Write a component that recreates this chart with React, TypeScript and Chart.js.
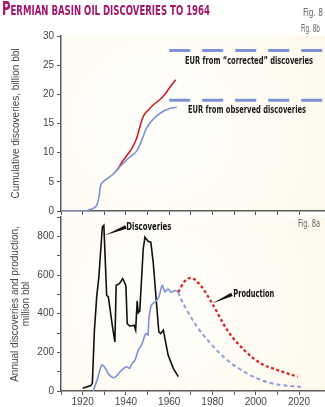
import React, { useEffect, useRef } from 'react';
import { Chart, registerables } from 'chart.js';

Chart.register(...registerables);

// ---------- DATA ----------
const titleFirst = 'P';
const titleRest = 'ERMIAN BASIN OIL DISCOVERIES TO 1964';

const cumObsYears = [1910, 1921, 1923, 1925, 1926.5, 1927.5, 1928.2, 1929.5, 1932, 1934, 1937, 1941, 1945, 1947.5, 1949.5, 1952.5, 1956, 1960.5, 1963.5];
const cumObsValues = [0, 0, 0.2, 0.5, 1.0, 2.3, 4.2, 5.0, 5.7, 6.3, 7.5, 9.0, 10.3, 12.3, 14.2, 15.7, 16.8, 17.6, 17.8];

const cumCorrYears = [1936, 1938, 1940, 1943, 1945, 1946.5, 1948, 1950, 1953, 1956, 1958, 1960.5, 1963];
const cumCorrValues = [7.0, 8.3, 9.3, 10.9, 12.5, 14.5, 16.2, 17.2, 18.3, 19.2, 20.0, 21.3, 22.5];

const eurYears = [1960, 2032];
const eurCorrected = 27.5;
const eurObserved = 19.0;

const discYears = [1920, 1923.8, 1924.5, 1925.4, 1926.5, 1927.5, 1929.1, 1929.8, 1931.1, 1931.9, 1933.7, 1934.9, 1935.5, 1937, 1938.5, 1939.2, 1940, 1940.6, 1941.9, 1943.8, 1944.5, 1945.2, 1945.7, 1946.4, 1948, 1948.8, 1949.3, 1950.3, 1951.5, 1952.6, 1954.2, 1955.2, 1956.1, 1957.3, 1959.5, 1961.9, 1964.2];
const discValues = [14, 28, 41, 306, 487, 590, 848, 857, 495, 487, 340, 254, 547, 555, 581, 565, 543, 349, 335, 340, 315, 465, 405, 413, 736, 796, 788, 774, 770, 667, 444, 306, 297, 315, 186, 117, 74];

const prodYears = [1924.9, 1926.9, 1928.8, 1930, 1931.8, 1934.1, 1935.6, 1938, 1940.3, 1941.8, 1942.9, 1944.2, 1945.7, 1947.2, 1948.8, 1949.5, 1950.2, 1950.6, 1951.8, 1953.9, 1955.2, 1956.8, 1958, 1959.5, 1961, 1962.6, 1964.2];
const prodValues = [0, 65, 134, 126, 91, 69, 77, 108, 125, 117, 143, 160, 212, 237, 289, 297, 289, 370, 444, 465, 487, 547, 513, 527, 510, 520, 512];

const prodCorrYears = [1964.2, 1967, 1970, 1974.4, 1979.9, 1986.8, 1994.6, 2002.3, 2010.1, 2019.4];
const prodCorrValues = [512, 565, 585, 547, 453, 315, 212, 143, 108, 74];

const prodObsFcYears = [1964.2, 1965, 1968.2, 1972.9, 1979.1, 1986.8, 1994.6, 2002.3, 2010, 2020.9];
const prodObsFcValues = [512, 487, 418, 332, 246, 160, 100, 57, 34, 22];

const xTickStep = 10;
const topYTicks = [0, 5, 10, 15, 20, 25, 30];
const bottomYLabelStep = 200;

// ---------- STYLE ----------
const NARROW = '"Liberation Sans Narrow", "DejaVu Sans Condensed", "Arial Narrow", sans-serif';
const SANS = '"Liberation Sans", Arial, sans-serif';
const BLUE = '#7d92d6';
const BLUE_DASH = '#8c9fdc';
const RED = '#c9202a';
const RED_DOT = '#d8262c';
const AXIS = '#5a5a5a';
const TEXT = '#444';

const zip = (xs: number[], ys: number[]) => xs.map((x, i) => ({ x, y: ys[i] }));

function fillCream(chart: any) {
  const { ctx, chartArea: a } = chart;
  ctx.save();
  const cx = (a.left + a.right) / 2;
  const cy = (a.top + a.bottom) / 2;
  const g = ctx.createRadialGradient(cx - 40, cy, 5, cx - 40, cy, 230);
  g.addColorStop(0, '#fffefb');
  g.addColorStop(0.6, '#fefbf1');
  g.addColorStop(1, '#fcf6e5');
  ctx.fillStyle = g;
  ctx.fillRect(a.left, a.top, a.right - a.left, a.bottom - a.top);
  ctx.restore();
}

// draw text horizontally compressed to a target width (condensed look)
function fitText(ctx: CanvasRenderingContext2D, text: string, x: number, y: number, w: number, align: 'left' | 'center' | 'right') {
  const natural = ctx.measureText(text).width;
  const k = Math.min(1, w / natural);
  ctx.save();
  ctx.translate(x, y);
  ctx.scale(k, 1);
  ctx.textAlign = align;
  ctx.fillText(text, 0, 0);
  ctx.restore();
}

function wedge(ctx: CanvasRenderingContext2D, tx: number, ty: number, bx: number, by: number, hw: number) {
  const dx = bx - tx, dy = by - ty;
  const len = Math.hypot(dx, dy);
  const nx = -dy / len, ny = dx / len;
  ctx.beginPath();
  ctx.moveTo(tx, ty);
  ctx.lineTo(bx + nx * hw, by + ny * hw);
  ctx.lineTo(bx - nx * hw, by - ny * hw);
  ctx.closePath();
  ctx.fill();
}

const topDecor = {
  id: 'topDecor',
  beforeDraw(chart: any) { fillCream(chart); },
  afterDraw(chart: any) {
    const { ctx, scales: { y }, width } = chart;
    ctx.save();
    ctx.fillStyle = '#666';
    ctx.font = `10px ${NARROW}`;
    ctx.textBaseline = 'middle';
    fitText(ctx, 'Fig. 8', width - 2, 13.5, 20, 'right');
    fitText(ctx, 'Fig. 8b', width - 5, 29.5, 19, 'right');
    ctx.fillStyle = '#1a1a1a';
    ctx.font = `bold 10px ${NARROW}`;
    fitText(ctx, 'EUR from \u201ccorrected\u201d discoveries', 249, y.getPixelForValue(eurCorrected) + 10.6, 128, 'center');
    fitText(ctx, 'EUR from observed discoveries', 247, y.getPixelForValue(eurObserved) + 10, 118, 'center');
    ctx.restore();
  },
};

const bottomDecor = {
  id: 'bottomDecor',
  beforeDraw(chart: any) { fillCream(chart); },
  afterDraw(chart: any) {
    const { ctx, scales: { x, y }, width } = chart;
    ctx.save();
    ctx.fillStyle = '#666';
    ctx.font = `10px ${NARROW}`;
    ctx.textBaseline = 'middle';
    fitText(ctx, 'Fig. 8a', width - 5, 8, 22, 'right');
    ctx.fillStyle = '#111';
    wedge(ctx, x.getPixelForValue(1930.3), y.getPixelForValue(806), x.getPixelForValue(1940), y.getPixelForValue(848), 1.8);
    ctx.font = `bold 10px ${NARROW}`;
    fitText(ctx, 'Discoveries', x.getPixelForValue(1940.2), y.getPixelForValue(848), 45, 'left');
    wedge(ctx, x.getPixelForValue(1979.8), y.getPixelForValue(452), x.getPixelForValue(1989), y.getPixelForValue(500), 1.8);
    fitText(ctx, 'Production', x.getPixelForValue(1989.6), y.getPixelForValue(500), 41, 'left');
    ctx.restore();
  },
};

const baseX = (height: number, showLabels: boolean) => ({
  type: 'linear' as const,
  min: 1910,
  max: 2032,
  afterBuildTicks: (s: any) => { s.ticks = s.ticks.filter((t: any) => t.value % xTickStep === 0); },
  afterFit: (s: any) => { s.height = height; s.paddingLeft = 0; s.paddingRight = 0; },
  grid: { drawOnChartArea: false, color: AXIS, lineWidth: 1, tickLength: 4 },
  border: { color: AXIS, width: 1.5 },
  ticks: {
    display: showLabels,
    stepSize: xTickStep,
    autoSkip: false,
    maxRotation: 0,
    padding: 1,
    color: TEXT,
    font: { size: 10, family: SANS },
    callback: (v: any) => (v % 20 === 0 && v >= 1920 ? String(v) : ''),
  },
});

const fitY = (s: any) => { s.width = 61; s.paddingTop = 0; s.paddingBottom = 0; };

export default function App() {
  const topRef = useRef<HTMLCanvasElement>(null);
  const botRef = useRef<HTMLCanvasElement>(null);

  useEffect(() => {
    const top = new Chart(topRef.current!, {
      type: 'line',
      data: {
        datasets: [
          { data: zip(eurYears, eurYears.map(() => eurCorrected)), borderColor: BLUE, borderWidth: 3, borderDash: [21, 12] },
          { data: zip(eurYears, eurYears.map(() => eurObserved)), borderColor: BLUE, borderWidth: 3, borderDash: [21, 12] },
          { data: zip(cumObsYears, cumObsValues), borderColor: BLUE, borderWidth: 1.6, cubicInterpolationMode: 'monotone' },
          { data: zip(cumCorrYears, cumCorrValues), borderColor: RED, borderWidth: 1.6, cubicInterpolationMode: 'monotone' },
        ] as any,
      },
      options: {
        animation: false,
        responsive: false,
        events: [],
        layout: { padding: { top: 36, right: 0, left: 0, bottom: 0 } },
        elements: { point: { radius: 0 } },
        plugins: { legend: { display: false }, tooltip: { enabled: false } },
        scales: {
          x: baseX(5, false) as any,
          y: {
            min: 0,
            max: 30,
            afterFit: fitY,
            afterBuildTicks: (s: any) => { s.ticks = topYTicks.map((v) => ({ value: v })); },
            grid: { drawOnChartArea: false, color: AXIS, lineWidth: 1, tickLength: 4 },
            border: { color: AXIS, width: 1.5 },
            ticks: { color: TEXT, padding: 3, font: { size: 10, family: SANS } },
            title: {
              display: true,
              text: 'Cumulative discoveries, billion bbl',
              color: TEXT,
              font: { size: 10, family: SANS },
              padding: { top: 10, bottom: 0 },
            },
          },
        },
      },
      plugins: [topDecor],
    });

    const bottom = new Chart(botRef.current!, {
      type: 'line',
      data: {
        datasets: [
          { data: zip(prodObsFcYears, prodObsFcValues), borderColor: BLUE_DASH, borderWidth: 2, borderDash: [4, 3], cubicInterpolationMode: 'monotone' },
          { data: zip(prodCorrYears, prodCorrValues), borderColor: RED_DOT, borderWidth: 2.3, borderDash: [3, 2.5], cubicInterpolationMode: 'monotone' },
          { data: zip(prodYears, prodValues), borderColor: BLUE, borderWidth: 1.6, tension: 0.3 },
          { data: zip(discYears, discValues), borderColor: '#111', borderWidth: 1.6, tension: 0 },
        ] as any,
      },
      options: {
        animation: false,
        responsive: false,
        events: [],
        layout: { padding: { top: 1, right: 0, left: 0, bottom: 0 } },
        elements: { point: { radius: 0 } },
        plugins: { legend: { display: false }, tooltip: { enabled: false } },
        scales: {
          x: baseX(16, true) as any,
          y: {
            min: 0,
            max: 900,
            afterFit: fitY,
            grid: { drawOnChartArea: false, color: AXIS, lineWidth: 1, tickLength: 4 },
            border: { color: AXIS, width: 1.5 },
            ticks: {
              stepSize: 100,
              autoSkip: false,
              color: TEXT,
              padding: 3,
              font: { size: 10, family: SANS },
              callback: (v: any) => (v % bottomYLabelStep === 0 ? String(v) : ''),
            },
            title: {
              display: true,
              text: ['Annual discoveries and production,', 'million bbl'],
              color: TEXT,
              font: { size: 10, family: SANS, lineHeight: 1.1 },
              padding: { top: 10, bottom: 0 },
            },
          },
        },
      },
      plugins: [bottomDecor],
    });

    return () => { top.destroy(); bottom.destroy(); };
  }, []);

  return (
    <div style={{ position: 'absolute', left: 0, top: 0, width: 325, height: 407, background: '#fff', overflow: 'hidden' }}>
      <canvas ref={topRef} width={325} height={216} style={{ position: 'absolute', left: 0, top: 0, width: 325, height: 216 }} />
      <canvas ref={botRef} width={325} height={191} style={{ position: 'absolute', left: 0, top: 216, width: 325, height: 191 }} />
      <div
        style={{
          position: 'absolute', left: 2, top: -1, whiteSpace: 'nowrap',
          fontFamily: NARROW, fontWeight: 'bold', color: '#a3166a', lineHeight: '19px',
          transform: 'scaleX(0.68)', transformOrigin: 'left top',
        }}
      >
        <span style={{ fontSize: 19 }}>{titleFirst}</span>
        <span style={{ fontSize: 14 }}>{titleRest}</span>
      </div>
    </div>
  );
}
